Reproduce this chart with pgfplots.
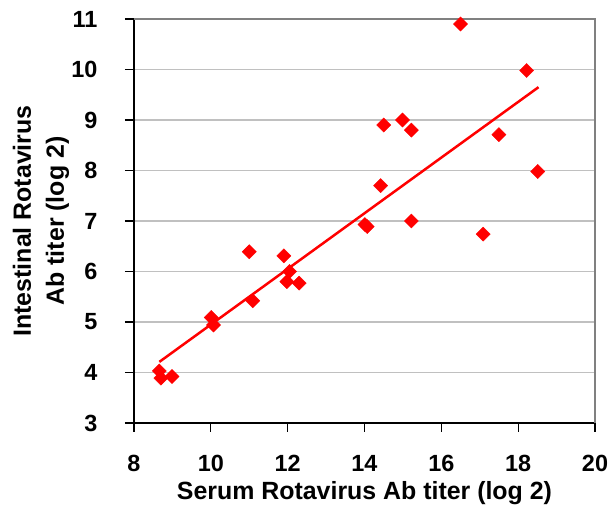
\documentclass[border=0pt]{standalone}
\usepackage{fontspec}
\setmainfont{Liberation Sans}
\usepackage{pgfplots}
\pgfplotsset{compat=1.18}

\definecolor{gridgray}{RGB}{192,192,192}
\definecolor{framegray}{RGB}{128,128,128}

\begin{document}
\begin{tikzpicture}
\begin{axis}[
    name=ax,
    scale only axis,
    width=461bp, height=404bp,
    xmin=8, xmax=20, ymin=3, ymax=11,
    xtick={8,10,...,20}, ytick={3,...,11},
    axis x line*=bottom, axis y line*=left,
    axis line style={black, line width=1.6bp, -},
    tick align=outside,
    major tick length=9bp,
    tick style={black, line width=1.2bp},
    ymajorgrids,
    major grid style={gridgray, line width=1.3bp},
    /pgf/number format/assume math mode=true,
    tick label style={font=\fontsize{23.5}{28}\selectfont\bfseries},
    xticklabel style={anchor=base, yshift=-40bp},
    yticklabel style={anchor=east, xshift=-24bp},
    label style={font=\fontsize{25}{33}\selectfont\bfseries},
    xlabel={Serum Rotavirus Ab titer (log 2)},
    xlabel style={at={(axis description cs:0.5,0)}, anchor=base, yshift=-77bp},
    ylabel={Intestinal Rotavirus\\Ab titer (log 2)},
    ylabel style={align=center, at={(axis description cs:0,0.5)}, anchor=center, yshift=93bp},
    clip=false,
]
% plot area border (top and right)
\draw[framegray, line width=2.4bp] (rel axis cs:0,1) -- (rel axis cs:1,1) -- (rel axis cs:1,0);

% linear trend line
\addplot[red, line width=2.5bp] coordinates {(8.66,4.21) (18.53,9.65)};

\addplot[only marks, mark=square*, mark size=5bp, mark options={red, rotate=45}] coordinates {
    (8.66,4.03) (8.70,3.89) (8.99,3.92)
    (10.01,5.09) (10.07,4.94)
    (11.00,6.39) (11.09,5.42)
    (11.90,6.31) (12.05,6.00) (11.98,5.80) (12.30,5.77)
    (14.01,6.93) (14.07,6.89) (14.42,7.70) (14.50,8.90)
    (14.99,9.00) (15.22,8.80) (15.22,7.00)
    (16.50,10.90) (17.09,6.74) (17.50,8.71)
    (18.22,9.98) (18.51,7.98)
};
\end{axis}
\pgfresetboundingbox
\path ([xshift=-134bp,yshift=-87bp]ax.south west) rectangle ([xshift=19bp,yshift=19bp]ax.north east);
\end{tikzpicture}
\end{document}
